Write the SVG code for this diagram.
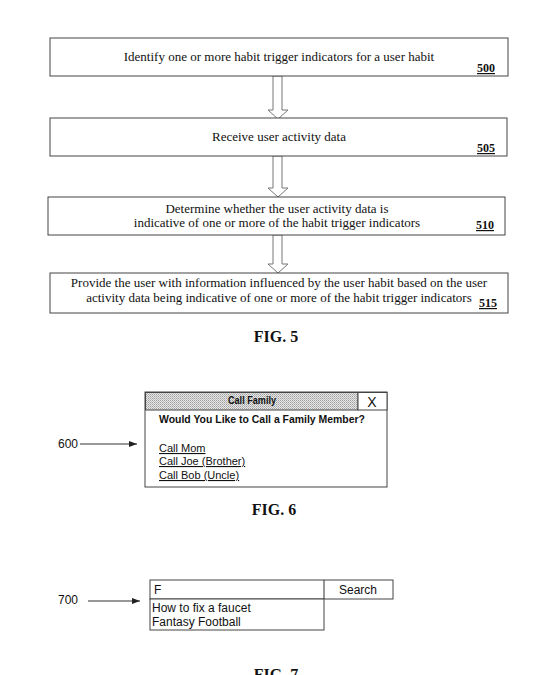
<svg xmlns="http://www.w3.org/2000/svg" width="549" height="675" viewBox="0 0 549 675">
<style>
.box{fill:#fff;stroke:#444;stroke-width:1}
.arr{fill:#fff;stroke:#777;stroke-width:1}
.t{font-family:"Liberation Serif","Times New Roman",serif;font-size:13px;fill:#111;text-anchor:middle}
.num{font-family:"Liberation Serif","Times New Roman",serif;font-size:12px;font-weight:bold;fill:#111;text-decoration:underline}
.fig{font-family:"Liberation Serif","Times New Roman",serif;font-size:16px;font-weight:bold;fill:#111;text-anchor:middle}
.s{font-family:"Liberation Sans",Arial,sans-serif;font-size:11px;fill:#111}
.s12{font-family:"Liberation Sans",Arial,sans-serif;font-size:12px;fill:#111}
.sb{font-family:"Liberation Sans",Arial,sans-serif;font-size:11px;font-weight:bold;fill:#111}
.u{text-decoration:underline}
.ln{stroke:#333;stroke-width:1;fill:none}
</style>
<defs>
<pattern id="hatch" width="2" height="2" patternUnits="userSpaceOnUse">
<rect width="2" height="2" fill="#e6e6e6"/>
<rect width="1" height="1" fill="#a0a0a0"/>
<rect x="1" y="1" width="1" height="1" fill="#bbbbbb"/>
</pattern>
<marker id="ah" markerWidth="8" markerHeight="6" refX="8" refY="3" orient="auto" markerUnits="userSpaceOnUse">
<path d="M0,0 L8,3 L0,6 Z" fill="#222"/>
</marker>
</defs>
<rect width="549" height="675" fill="#fff"/>

<g id="connectors">
<polygon class="arr" points="273,76 282,76 282,110 288,110 278,119 268,110 273,110"/>
<polygon class="arr" points="273,156 282,156 282,188 288,188 278,197 268,188 273,188"/>
<polygon class="arr" points="273,235 282,235 282,264 288,264 278,273 268,264 273,264"/>
<line class="ln" x1="80" y1="444" x2="137" y2="444" marker-end="url(#ah)"/>
<line class="ln" x1="88" y1="601" x2="140" y2="601" marker-end="url(#ah)"/>
</g>

<g id="n500">
<rect class="box" x="50" y="38" width="458" height="38"/>
<text class="t" x="279" y="61">Identify one or more habit trigger indicators for a user habit</text>
<text class="num" x="477" y="72">500</text>
</g>
<g id="n505">
<rect class="box" x="50" y="118" width="457" height="38"/>
<text class="t" x="279" y="141">Receive user activity data</text>
<text class="num" x="477" y="152">505</text>
</g>
<g id="n510">
<rect class="box" x="48" y="197" width="457" height="38"/>
<text class="t" x="277" y="213">Determine whether the user activity data is</text>
<text class="t" x="277" y="227">indicative of one or more of the habit trigger indicators</text>
<text class="num" x="476" y="229">510</text>
</g>
<g id="n515">
<rect class="box" x="50" y="273" width="458" height="40"/>
<text class="t" x="279" y="287">Provide the user with information influenced by the user habit based on the user</text>
<text class="t" x="279" y="302">activity data being indicative of one or more of the habit trigger indicators</text>
<text class="num" x="479" y="307">515</text>
</g>
<text class="fig" x="276" y="342">FIG. 5</text>

<g id="n600">
<text class="s12" x="58" y="448">600</text>
</g>
<g id="dialog">
<rect class="box" x="145" y="392" width="242" height="95"/>
<rect x="145.5" y="392.5" width="212.5" height="17.5" fill="url(#hatch)" stroke="#444"/>
<rect x="358" y="392.5" width="29" height="17.5" fill="#fff" stroke="#444"/>
<text class="sb" x="228" y="404" style="font-size:10px" textLength="48" lengthAdjust="spacingAndGlyphs">Call Family</text>
<text class="s" x="372" y="407" text-anchor="middle" style="font-size:14px">X</text>
<text class="sb" x="159" y="423" textLength="206" lengthAdjust="spacingAndGlyphs">Would You Like to Call a Family Member?</text>
<text class="s u" x="159" y="452">Call Mom</text>
<text class="s u" x="159" y="465">Call Joe (Brother)</text>
<text class="s u" x="159" y="479">Call Bob (Uncle)</text>
</g>
<text class="fig" x="274" y="515">FIG. 6</text>

<g id="n700">
<text class="s12" x="58" y="604">700</text>
</g>
<g id="search">
<rect class="box" x="150" y="580" width="243" height="19"/>
<line class="ln" x1="324" y1="580" x2="324" y2="599"/>
<rect class="box" x="150" y="599" width="174" height="31"/>
<text class="s12" x="154" y="594">F</text>
<text class="s12" x="358" y="594" text-anchor="middle">Search</text>
<text class="s12" x="152" y="612">How to fix a faucet</text>
<text class="s12" x="152" y="626">Fantasy Football</text>
</g>
<text class="fig" x="276" y="680">FIG. 7</text>
</svg>
